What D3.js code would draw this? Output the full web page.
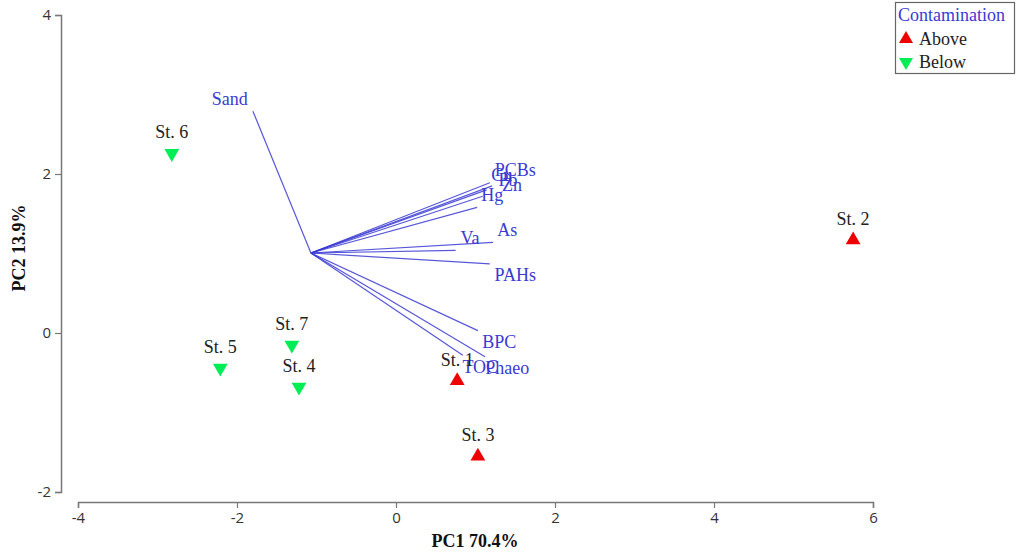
<!DOCTYPE html>
<html>
<head>
<meta charset="utf-8">
<script src="https://cdn.jsdelivr.net/npm/d3@7"></script>
<style>
  body { margin: 0; background: #fff; }
  svg { display: block; }
</style>
</head>
<body>
<svg id="svg"></svg>
<script>
'use strict';

// ===================== data =====================
var stations = ["St. 1", "St. 2", "St. 3", "St. 4", "St. 5", "St. 6", "St. 7"];
var pc1 = [0.77, 5.75, 1.03, -1.22, -2.21, -2.82, -1.31];
var pc2 = [-0.60, 1.17, -1.55, -0.68, -0.44, 2.26, -0.15];
var contamination = ["Above", "Above", "Above", "Below", "Below", "Below", "Below"];

// loading vectors all start at one point
var vecOrigin = [-1.07, 1.006];
var variables = ["Sand", "PCBs", "Cu", "Pb", "Zn", "Hg", "As", "Va", "PAHs", "BPC", "TOC", "Phaeo"];
var vecX = [-1.80, 1.18, 1.21, 1.14, 1.09, 1.02, 1.22, 0.75, 1.18, 1.03, 0.84, 1.12];
var vecY = [2.79, 1.89, 1.85, 1.80, 1.72, 1.58, 1.14, 1.04, 0.87, 0.03, -0.28, -0.30];
// where the names are written
var labX = [-2.09, 1.50, 1.33, 1.41, 1.46, 1.21, 1.40, 0.93, 1.50, 1.30, 1.06, 1.40];
var labY = [2.94, 2.05, 1.99, 1.92, 1.86, 1.74, 1.30, 1.19, 0.73, -0.11, -0.43, -0.44];

var xTicks = [-4, -2, 0, 2, 4, 6];
var yTicks = [-2, 0, 2, 4];
var legendKeys = ["Above", "Below"];

// ===================== setup =====================
var width = 1022;
var height = 557;
var svg = d3.select("#svg").attr("width", width).attr("height", height);

var x = d3.scaleLinear().domain([-4, 6]).range([78, 873]);
var y = d3.scaleLinear().domain([-2, 4]).range([492, 15]);

var colorMap = { "Above": "#ee0000", "Below": "#00ee55" };
var blue = "#3a3ad2";
var serif = "'Liberation Serif', 'Times New Roman', serif";

// ===================== axes =====================
// plain hyphen for negatives, like the original
var fmt = d => String(d);

var xAxis = svg.append("g")
    .attr("transform", "translate(0,502)")
    .call(d3.axisBottom(x).tickValues(xTicks).tickFormat(fmt).tickSizeOuter(0).tickSize(6).tickPadding(4));

var yAxis = svg.append("g")
    .attr("transform", "translate(61,0)")
    .call(d3.axisLeft(y).tickValues(yTicks).tickFormat(fmt).tickSizeOuter(0).tickSize(6).tickPadding(4));

[xAxis, yAxis].forEach(function (g) {
    g.select(".domain").attr("stroke", "#777").attr("stroke-width", 1.5);
    g.selectAll(".tick line").attr("stroke", "#777").attr("stroke-width", 1.2);
    g.selectAll(".tick text")
        .attr("fill", "#333")
        .style("font-family", "'Open Sans', 'DejaVu Sans', sans-serif")
        .style("font-size", "15px");
});

svg.append("text")
    .attr("x", 475).attr("y", 547)
    .attr("text-anchor", "middle")
    .style("font-family", serif).style("font-weight", "bold").style("font-size", "18px")
    .attr("fill", "#111")
    .text("PC1 70.4%");

svg.append("text")
    .attr("transform", "translate(25,248) rotate(-90)")
    .attr("text-anchor", "middle")
    .style("font-family", serif).style("font-weight", "bold").style("font-size", "18px")
    .attr("fill", "#111")
    .text("PC2 13.9%");

// ===================== loading vectors =====================
var vectors = variables.map((v, i) => ({ name: v, x: vecX[i], y: vecY[i], lx: labX[i], ly: labY[i] }));

svg.append("g")
    .attr("stroke", blue)
    .attr("stroke-opacity", 0.85)
    .attr("stroke-width", 1.2)
    .selectAll("line")
    .data(vectors)
    .join("line")
    .attr("x1", x(vecOrigin[0]))
    .attr("y1", y(vecOrigin[1]))
    .attr("x2", d => x(d.x))
    .attr("y2", d => y(d.y));

svg.append("g")
    .selectAll("text")
    .data(vectors)
    .join("text")
    .attr("x", d => x(d.lx))
    .attr("y", d => y(d.ly))
    .attr("text-anchor", "middle")
    .attr("dominant-baseline", "central")
    .attr("fill", blue)
    .style("font-family", serif)
    .style("font-size", "18px")
    .text(d => d.name);

// ===================== stations =====================
var points = stations.map((s, i) => ({ name: s, x: pc1[i], y: pc2[i], cls: contamination[i] }));

var triangle = d3.symbol().type(d3.symbolTriangle).size(95);

svg.append("g")
    .selectAll("path")
    .data(points)
    .join("path")
    .attr("d", triangle)
    .attr("transform", d => "translate(" + x(d.x) + "," + y(d.y) + ")" + (d.cls == "Below" ? " rotate(180)" : ""))
    .attr("fill", d => colorMap[d.cls]);

svg.append("g")
    .selectAll("text")
    .data(points)
    .join("text")
    .attr("x", d => x(d.x))
    .attr("y", d => y(d.y) - 15)
    .attr("text-anchor", "middle")
    .attr("fill", "#222")
    .style("font-family", serif)
    .style("font-size", "18px")
    .text(d => d.name);

// ===================== legend =====================
var legend = svg.append("g");
legend.append("rect")
    .attr("x", 895.5).attr("y", 2.5)
    .attr("width", 119).attr("height", 71)
    .attr("fill", "#fff")
    .attr("stroke", "#666")
    .attr("stroke-width", 1.2);

legend.append("text")
    .attr("x", 898).attr("y", 21)
    .attr("fill", blue)
    .style("font-family", serif).style("font-size", "18px")
    .text("Contamination");

var legendSym = d3.symbol().type(d3.symbolTriangle).size(85);
legend.selectAll("path.key")
    .data(legendKeys)
    .join("path")
    .attr("class", "key")
    .attr("d", legendSym)
    .attr("transform", (d, i) => "translate(906," + (39 + i * 23) + ")" + (d == "Below" ? " rotate(180)" : ""))
    .attr("fill", d => colorMap[d]);

legend.selectAll("text.key")
    .data(legendKeys)
    .join("text")
    .attr("class", "key")
    .attr("x", 919)
    .attr("y", (d, i) => 45 + i * 23)
    .attr("fill", "#222")
    .style("font-family", serif).style("font-size", "18px")
    .text(d => d);
</script>
</body>
</html>
